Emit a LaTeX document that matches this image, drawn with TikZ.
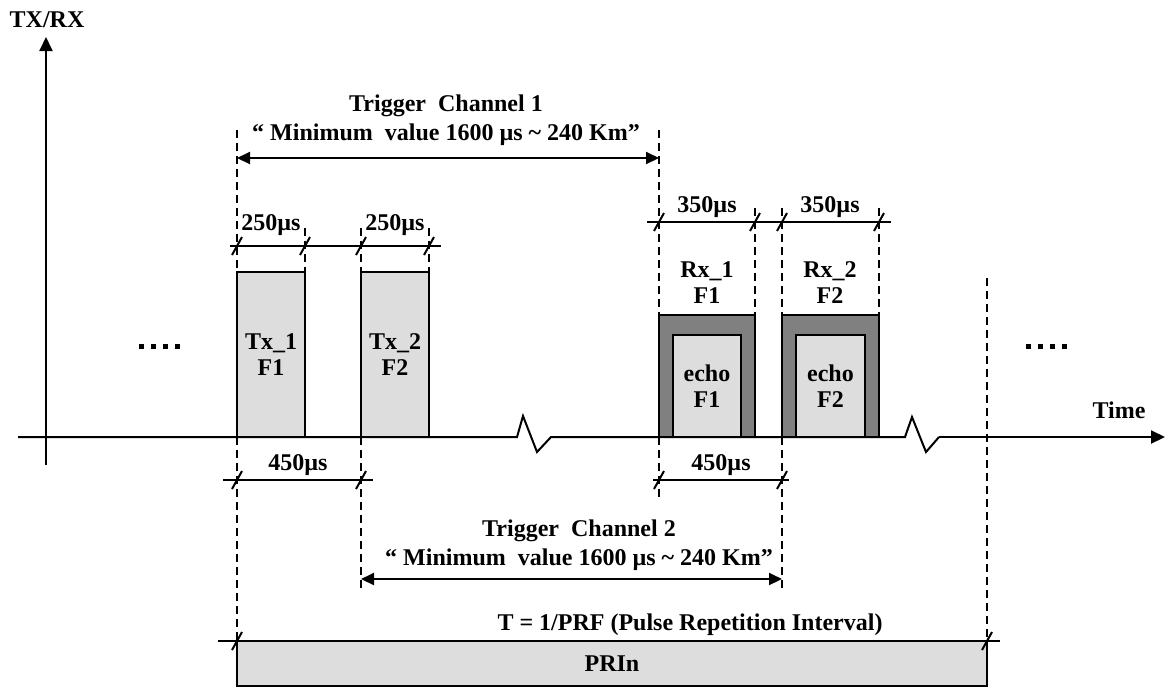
\documentclass[tikz,border=0pt]{standalone}
\usepackage{fontspec}
\setmainfont{Liberation Serif}
\usetikzlibrary{arrows.meta, positioning, calc}
\definecolor{pulsefill}{HTML}{DDDDDD}
\definecolor{rxframe}{HTML}{808080}
\tikzset{
  txbox/.style={rectangle, draw=black, fill=pulsefill, line width=1pt, inner sep=0pt,
                minimum width=34pt, minimum height=82.5pt},
  rxbox/.style={rectangle, draw=black, fill=rxframe, line width=1pt, inner sep=0pt,
                minimum width=48pt, minimum height=61pt},
  echobox/.style={rectangle, draw=black, fill=pulsefill, line width=1pt, inner sep=0pt,
                  minimum width=34pt, minimum height=51pt},
  guide/.style={dash pattern=on 4pt off 2.5pt, line width=1pt},
  tickmark/.style={line width=1pt},
  axarr/.style={-{Triangle[length=7pt, width=6.5pt]}, line width=1pt},
  trigarr/.style={{Triangle[length=6.5pt, width=6pt]}-{Triangle[length=6.5pt, width=6pt]}, line width=1pt},
  twoline/.style={font=\fontsize{12}{14.5}\selectfont\bfseries},
}

\begin{document}
\begin{tikzpicture}[x=0.5pt, y=-0.5pt, line width=1pt,
  every node/.style={font=\fontsize{12}{13}\selectfont\bfseries, align=center, inner sep=0pt}]
  \useasboundingbox (0,0) rectangle (1171,687);

  \foreach \x/\ya/\yb in {237/130/272, 237/437/641, 305/228/272, 361/228/272, 361/437/592,
                          429/228/272, 659/130/315, 659/437/497, 755/208/315, 782/208/315,
                          782/437/590, 879/208/315, 987/278/641}
    \draw[guide] (\x,\ya) -- (\x,\yb);

  \coordinate (ybot) at (46,465);
  \coordinate (ytop) at (46,37);
  \draw[axarr] (ybot) -- (ytop);
  \node (ylab) at (47,20) {TX/RX};

  \coordinate (tstart) at (18,437);
  \coordinate (brkA) at (517,437);
  \coordinate (brkB) at (551,437);
  \coordinate (brkC) at (905,437);
  \coordinate (brkD) at (939,437);
  \coordinate (tend) at (1165,437);
  \draw (tstart) -- (brkA) -- (523,416) -- (537,452) -- (brkB) -- (brkC)
        -- (912,417) -- (926,452) -- (brkD);
  \draw[axarr] (brkD) -- (tend);
  \node (tlab) at (1119,410) {Time};

  \foreach \x in {141,153,165,177,1028,1040,1052,1064}
    \fill (\x-2.5,343.5) rectangle (\x+2.5,348.5);

  \node[txbox] (tx1) at (271,354.5) {Tx\_1\\F1};
  \node[txbox] (tx2) at (395,354.5) {Tx\_2\\F2};

  \node[rxbox] (rx1) at (707,376) {};
  \node[echobox] (echo1) at (707,386) {echo\\F1};
  \node[rxbox, minimum width=48.5pt] (rx2) at (830.5,376) {};
  \node[echobox, minimum width=34.5pt] (echo2) at (830.5,386) {echo\\F2};
  \node (rxlab1) at (707,283) {Rx\_1\\F1};
  \node (rxlab2) at (830,283) {Rx\_2\\F2};

  \coordinate (d250a) at (230,246);
  \coordinate (d250b) at (441,246);
  \draw (d250a) -- (d250b);
  \node (w250a) at (271,225) {250µs};
  \node (w250b) at (395,225) {250µs};

  \coordinate (d350a) at (647,222);
  \coordinate (d350b) at (891,222);
  \draw (d350a) -- (d350b);
  \node (w350a) at (707,207) {350µs};
  \node (w350b) at (830,207) {350µs};

  \coordinate (d450a) at (223,480);
  \coordinate (d450b) at (373,480);
  \coordinate (d450c) at (653,480);
  \coordinate (d450d) at (789,480);
  \draw (d450a) -- (d450b);
  \draw (d450c) -- (d450d);
  \node (w450a) at (298,465) {450µs};
  \node (w450b) at (721,465) {450µs};

  \coordinate (trig1a) at (237,158);
  \coordinate (trig1b) at (659,158);
  \draw[trigarr] (trig1a) -- (trig1b);
  \node[twoline] (trig1) at (446,120) {Trigger\ \ Channel 1\\“ Minimum\ \ value 1600 µs \textasciitilde{} 240 Km”};

  \coordinate (trig2a) at (361,579);
  \coordinate (trig2b) at (782,579);
  \draw[trigarr] (trig2a) -- (trig2b);
  \node[twoline] (trig2) at (579,545) {Trigger\ \ Channel 2\\“ Minimum\ \ value 1600 µs \textasciitilde{} 240 Km”};

  \node[txbox, minimum width=375pt, minimum height=22.5pt] (pri) at (612,663.5) {PRIn};
  \coordinate (prla) at (218,641);
  \coordinate (prlb) at (1000,641);
  \draw (prla) -- (prlb);
  \node (prflab) at (690,625) {T = 1/PRF (Pulse Repetition Interval)};

  \foreach \x/\y in {237/246, 305/246, 361/246, 429/246, 659/222, 755/222, 782/222, 879/222,
                     237/480, 361/480, 659/480, 782/480, 237/641, 987/641}
    \draw[tickmark] (\x,\y) ++(-5,9) -- ++(10,-18);
\end{tikzpicture}
\end{document}
